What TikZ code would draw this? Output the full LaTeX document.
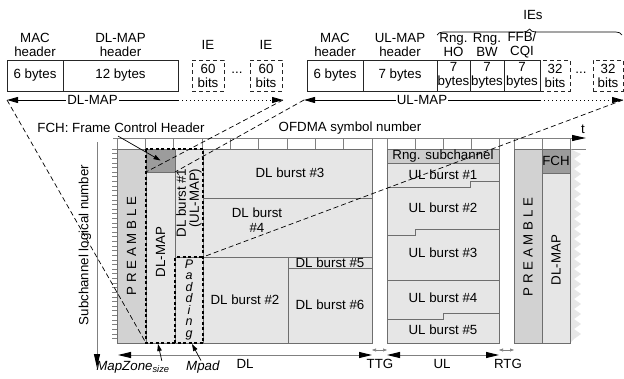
\documentclass[tikz,border=0pt]{standalone}
\usepackage{fontspec}
\setmainfont{Liberation Sans}
\usetikzlibrary{arrows.meta,calc,decorations.pathreplacing}

\definecolor{burstgray}{HTML}{E6E6E6}
\definecolor{preamblegray}{HTML}{D2D2D2}
\definecolor{fchgray}{HTML}{9C9C9C}
\definecolor{rnggray}{HTML}{CCCCCC}
\definecolor{edgegray}{HTML}{6E6E6E}

\begin{document}
\begin{tikzpicture}[x=1pt, y=-1pt,
  font=\fontsize{13.3}{14.5}\selectfont,
  msgcell/.style={draw=black!85, line width=0.8pt, minimum height=31pt, inner sep=0pt, align=center, font=\fontsize{13.3}{14}\selectfont},
  iecell/.style={msgcell, dash pattern=on 4pt off 3pt},
  hdr/.style={align=center, inner sep=0pt},
  cell/.style={draw=edgegray, line width=0.8pt, fill=burstgray},
  lbl/.style={inner sep=0pt, align=center},
  vlbl/.style={lbl, rotate=90},
  tick/.style={draw=gray, line width=0.6pt},
  msgarrow/.style={line width=0.8pt, -{Triangle[length=11pt,width=6pt]}},
  axisarrow/.style={draw=gray, line width=1pt, -{Triangle[length=14pt,width=6pt,color=black]}},
  spanarrow/.style={draw=gray, line width=1pt, {Triangle[length=13pt,width=6pt,color=black]}-{Triangle[length=13pt,width=6pt,color=black]}},
  gaparrow/.style={draw=gray, line width=0.6pt, {Triangle[length=4pt,width=3pt]}-{Triangle[length=4pt,width=3pt]}},
  callout/.style={line width=0.7pt, -{Triangle[length=7pt,width=4.5pt]}},
  mapzone/.style={draw=black, line width=2.4pt, dash pattern=on 3pt off 2.5pt},
  mapline/.style={draw=black, line width=0.7pt, dash pattern=on 5pt off 3pt}
]
\useasboundingbox (0,0) rectangle (624,378);

% DL-MAP message
\node[hdr] (dlmachdr) at (35,45) {MAC\\header};
\node[hdr] (dlmaphdr) at (120.5,45) {DL-MAP\\header};
\node[hdr] (dlielbl1) at (208,45) {IE};
\node[hdr] (dlielbl2) at (266,45) {IE};
\node[msgcell, minimum width=56pt] (dlmac) at (35,75.5) {6 bytes};
\node[msgcell, minimum width=115pt] (dlhead) at (120.5,75.5) {12 bytes};
\node[iecell, minimum width=32pt] (dlie1) at (208,75.5) {60\\bits};
\node[iecell, minimum width=32pt] (dlie2) at (266,75.5) {60\\bits};
\node[lbl] (dldots) at (237,73) {...};

\coordinate (dlL) at (7,100);
\coordinate (dlE) at (178,100);
\coordinate (dlR) at (283,100);
\draw[msgarrow] (dlE) -- node[fill=white, inner sep=1pt] (dlmaplbl) {DL-MAP} (dlL);
\draw[msgarrow, dash pattern=on 1pt off 3pt] (dlE) -- (dlR);

% UL-MAP message
\node[hdr] (ulmachdr) at (335,45) {MAC\\header};
\node[hdr] (ulmaphdr) at (400,45) {UL-MAP\\header};
\node[hdr] (rngholbl) at (453.5,45) {Rng.\\HO};
\node[hdr] (rngbwlbl) at (487,45) {Rng.\\BW};
\node[hdr] (ffblbl) at (522,45) {FFB/\\CQI};
\node[lbl] (ieslbl) at (533,15) {IEs};
\draw[line width=0.7pt, decorate, decoration={brace, amplitude=6pt}] (437,35) -- (622,35);
\node[msgcell, minimum width=56pt] (ulmac) at (335,75.5) {6 bytes};
\node[msgcell, minimum width=74pt] (ulhead) at (400,75.5) {7 bytes};
\node[msgcell, minimum width=33pt] (rngho) at (453.5,75.5) {7\\bytes};
\node[msgcell, minimum width=34pt] (rngbw) at (487,75.5) {7\\bytes};
\node[msgcell, minimum width=36pt] (ffbcqi) at (522,75.5) {7\\bytes};
\node[iecell, minimum width=30pt] (ulie1) at (555,75.5) {32\\bits};
\node[iecell, minimum width=30pt] (ulie2) at (608,75.5) {32\\bits};
\node[lbl] (uldots) at (581,73) {...};

\coordinate (ulL) at (304,100);
\coordinate (ulE) at (540,100);
\coordinate (ulR) at (623,100);
\draw[msgarrow] (ulE) -- node[fill=white, inner sep=1pt] (ulmaplbl) {UL-MAP} (ulL);
\draw[msgarrow, dash pattern=on 1pt off 3pt] (ulE) -- (ulR);

% axes
\node[lbl] (fchlbl) at (121,128) {FCH: Frame Control Header};
\node[lbl] (symlbl) at (350,128) {OFDMA symbol number};
\node[lbl] (tlbl) at (583,129) {t};
\coordinate (tstart) at (113,138);
\coordinate (tend) at (586,138);
\draw[axisarrow] (tstart) -- (tend);
\node[vlbl] (sublbl) at (85,245) {Subchannel logical number};
\coordinate (sstart) at (97,142);
\coordinate (send) at (97,368);
\draw[axisarrow] (sstart) -- (send);

\foreach \i in {0,...,9}
  \draw[tick] ({117+\i*28.33},138) -- ++(0,11);
\foreach \x in {387,415,443,471,499,514,542,570}
  \draw[tick] (\x,138) -- ++(0,11);
\foreach \y in {149,153.62,...,343}
  \draw[tick] (112,\y) -- (117,\y);

% DL subframe
\draw[cell, fill=preamblegray] (117,149) rectangle (146,343);
\draw[cell] (146,172) rectangle (175,343);
\node[cell, fill=fchgray, minimum width=29pt, minimum height=23pt, inner sep=0pt] (fch) at (160.5,160.5) {};
\draw[cell] (175,149) rectangle (203,257);
\draw[cell] (175,257) rectangle (203,343);
\draw[cell] (203,149) rectangle (372,198);
\draw[cell] (203,198) rectangle (372,257);
\draw[cell] (203,257) rectangle (288,343);
\draw[cell] (288,257) rectangle (372,268);
\draw[cell] (288,268) rectangle (372,343);

\node[vlbl] (pre1) at (131.5,246) {P R E A M B L E};
\node[vlbl] (dlmap1) at (160.5,252) {DL-MAP};
\node[vlbl, align=right, font=\fontsize{13.3}{13}\selectfont] (burst1) at (189,203) {DL burst \#1\\(UL-MAP)};
\foreach \ch [count=\k from 0] in {P,a,d,d,i,n,g}
  \node[lbl, font=\fontsize{12.5}{12.5}\itshape, anchor=base] (pad\k) at (189,{268+\k*11.5}) {\ch};
\node[lbl] (burst3) at (290,173) {DL burst \#3};
\node[lbl] (burst4) at (257,220) {DL burst\\\#4};
\node[lbl] (burst2) at (245,300) {DL burst \#2};
\node[lbl] (burst5) at (330,263) {DL burst \#5};
\node[lbl] (burst6) at (330,305) {DL burst \#6};

% UL subframe
\draw[cell] (387,149) rectangle (499,343);
\draw[cell, fill=rnggray] (387,149) rectangle (499,163);
\draw[cell, fill=none] (387,187) -- (470,187) -- (470,181) -- (499,181);
\draw[cell, fill=none] (387,235) -- (415,235) -- (415,229) -- (499,229);
\draw[cell, fill=none] (387,280) -- (499,280);
\draw[cell, fill=none] (387,319) -- (443,319) -- (443,313) -- (499,313);
\node[lbl] (rnglbl) at (443,156.5) {Rng. subchannel};
\node[lbl] (ul1) at (443,175) {UL burst \#1};
\node[lbl] (ul2) at (443,208) {UL burst \#2};
\node[lbl] (ul3) at (443,253) {UL burst \#3};
\node[lbl] (ul4) at (443,298) {UL burst \#4};
\node[lbl] (ul5) at (443,330) {UL burst \#5};

% next frame
\draw[tick] (514,149) -- (586,149);
\fill[burstgray] (570,149) \foreach \k in {0,...,18} { -- (581,{154+\k*10}) -- (574,{159+\k*10}) } -- (570,343) -- cycle;
\draw[cell, fill=preamblegray] (514,149) rectangle (542,343);
\draw[cell] (542,173) rectangle (570,343);
\node[cell, fill=fchgray, minimum width=28pt, minimum height=24pt, inner sep=0pt] (fch2) at (556,161) {};
\node[lbl] (fch2lbl) at (556,161) {FCH};
\node[vlbl] (pre2) at (528,247) {P R E A M B L E};
\node[vlbl] (dlmap2) at (556,260) {DL-MAP};

% map zone and padding
\draw[mapzone] (146,149) rectangle (203,343);
\draw[mapzone] (175,343) -- (175,257) -- (203,257);

% durations
\coordinate (dlS) at (118,355);
\coordinate (dlT) at (372,355);
\coordinate (ulS) at (387,355);
\coordinate (ulT) at (499,355);
\coordinate (nxS) at (514,355);
\draw[spanarrow] (dlS) -- (dlT);
\draw[spanarrow] (ulS) -- (ulT);
\draw[gaparrow] ($(dlT)+(0,-5)$) -- ($(ulS)+(0,-5)$);
\draw[gaparrow] ($(ulT)+(0,-5)$) -- ($(nxS)+(0,-5)$);
\node[lbl] (dllbl) at (245,364) {DL};
\node[lbl] (ttglbl) at (380,364) {TTG};
\node[lbl] (ullbl) at (442,364) {UL};
\node[lbl] (rtglbl) at (508,364) {RTG};
\node[lbl] (mzlbl) at (133,367) {\textit{MapZone}\textsubscript{\textit{size}}};
\node[lbl] (mpadlbl) at (203,367) {\textit{Mpad}};
\draw[callout] ($(mzlbl.north east)+(-8,0)$) -- (158,344);
\draw[callout] ($(mpadlbl.north)+(-2,0)$) -- (192,344);
\draw[callout] ($(fchlbl.south)+(-3,3)$) -- (fch.center);

% mapping of the MAP messages
\coordinate (mzBL) at (146,343);
\coordinate (mzTL) at (146,172);
\coordinate (fchBR) at (175,172);
\coordinate (ulmBR) at (203,257);
\draw[mapline] (dlL) -- (mzBL);
\draw[mapline] (dlR) -- (mzTL);
\draw[mapline] (ulL) -- (fchBR);
\draw[mapline] (ulR) -- (ulmBR);
\end{tikzpicture}
\end{document}
